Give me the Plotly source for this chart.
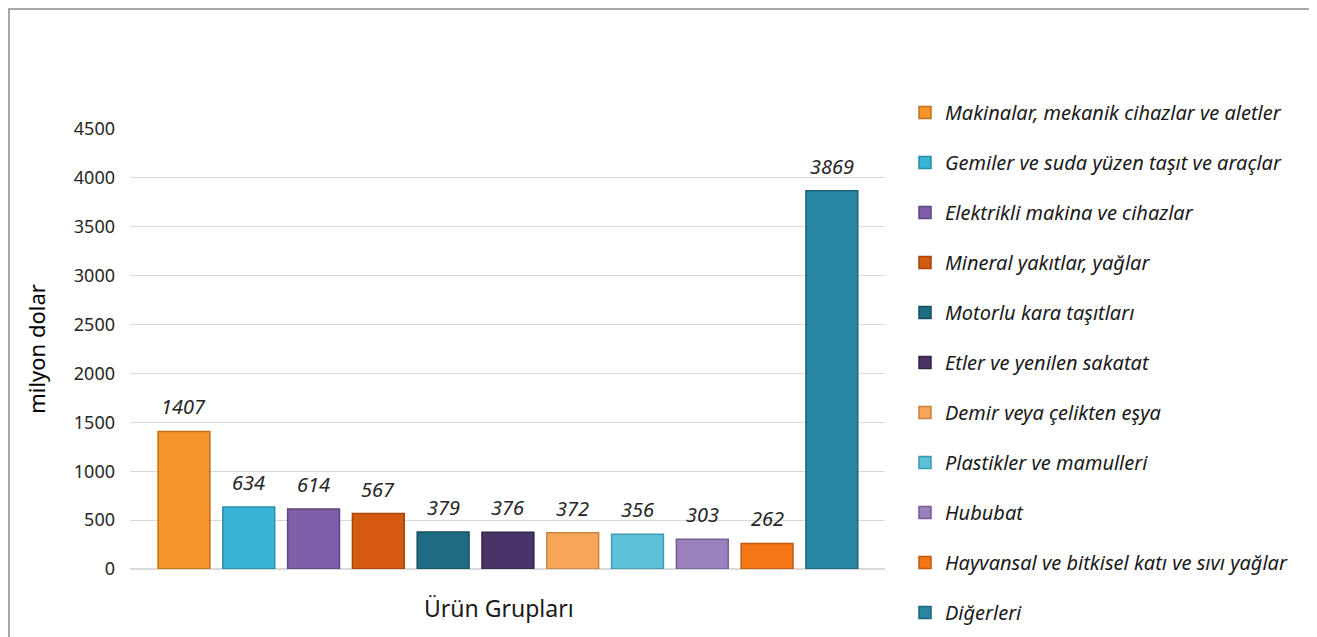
import plotly.graph_objects as go

categories = [
    "Makinalar, mekanik cihazlar ve aletler",
    "Gemiler ve suda yüzen taşıt ve araçlar",
    "Elektrikli makina ve cihazlar",
    "Mineral yakıtlar, yağlar",
    "Motorlu kara taşıtları",
    "Etler ve yenilen sakatat",
    "Demir veya çelikten eşya",
    "Plastikler ve mamulleri",
    "Hububat",
    "Hayvansal ve bitkisel katı ve sıvı yağlar",
    "Diğerleri",
]
values = [1407, 634, 614, 567, 379, 376, 372, 356, 303, 262, 3869]
colors = ["#F5952C", "#3AB4D6", "#7F5FA8", "#D45A10", "#1E6C82", "#4A3366",
          "#F7A659", "#5BC2DA", "#9A80BC", "#F47616", "#2886A3"]
edge = ["#C0701A", "#2A8BA6", "#5E4482", "#A8440A", "#154F60", "#35244A",
        "#C8843F", "#3F99AF", "#765E93", "#C05A10", "#1D6479"]
yticks = [0, 500, 1000, 1500, 2000, 2500, 3000, 3500, 4000, 4500]
x_title = "Ürün Grupları"
y_title = "milyon dolar"

FONT = "Noto Sans"
fig = go.Figure()
for i, (c, v) in enumerate(zip(categories, values)):
    fig.add_trace(go.Bar(
        x=[i], y=[v], name=c, width=0.8,
        marker=dict(color=colors[i], line=dict(color=edge[i], width=1.5)),
        legendgroup=str(i),
    ))
    fig.add_annotation(x=i, y=v, text=str(v), showarrow=False,
                       yanchor="bottom", yshift=9,
                       font=dict(family=FONT, size=20, color="#262626", style="italic"))

fig.add_annotation(xref="paper", yref="paper", x=(499 - 130) / 755, y=-(608 - 569) / 440,
                   text=x_title, showarrow=False, xanchor="center", yanchor="middle",
                   font=dict(family=FONT, size=23, color="#1a1a1a"))

fig.update_layout(
    width=1317, height=637,
    paper_bgcolor="white", plot_bgcolor="white",
    margin=dict(l=122, r=440, t=121, b=76, autoexpand=False),
    showlegend=True,
    legend=dict(
        xref="container", yref="container",
        x=897 / 1317, y=1 - 85 / 637, xanchor="left", yanchor="top",
        font=dict(family=FONT, size=20, color="#1a1a1a", style="italic"),
        traceorder="grouped", tracegroupgap=21, itemwidth=30,
        maxheight=1.0,
    ),
    xaxis=dict(
        range=[-0.833, 10.82], showticklabels=False, showgrid=False,
        zeroline=False, showline=False, automargin=False,
    ),
    yaxis=dict(
        range=[0, 4500], tickvals=yticks, ticktext=[str(t) for t in yticks],
        showgrid=True, gridcolor="#D9D9D9", gridwidth=1,
        zeroline=True, zerolinecolor="#D9D9D9", showline=False, automargin=False,
        tickfont=dict(family=FONT, size=18, color="#262626"),
        ticks="", ticklabelstandoff=14,
        title=dict(text=y_title, font=dict(family=FONT, size=22, color="#000000"), standoff=22),
    ),
)
fig.add_shape(type="rect", xref="paper", yref="paper",
              x0=(9 - 130) / 755, x1=(1315 - 130) / 755, y0=-1, y1=(569 - 9) / 440,
              line=dict(color="#8C8C8C", width=1.5), layer="below")
fig.write_html("out.html")
